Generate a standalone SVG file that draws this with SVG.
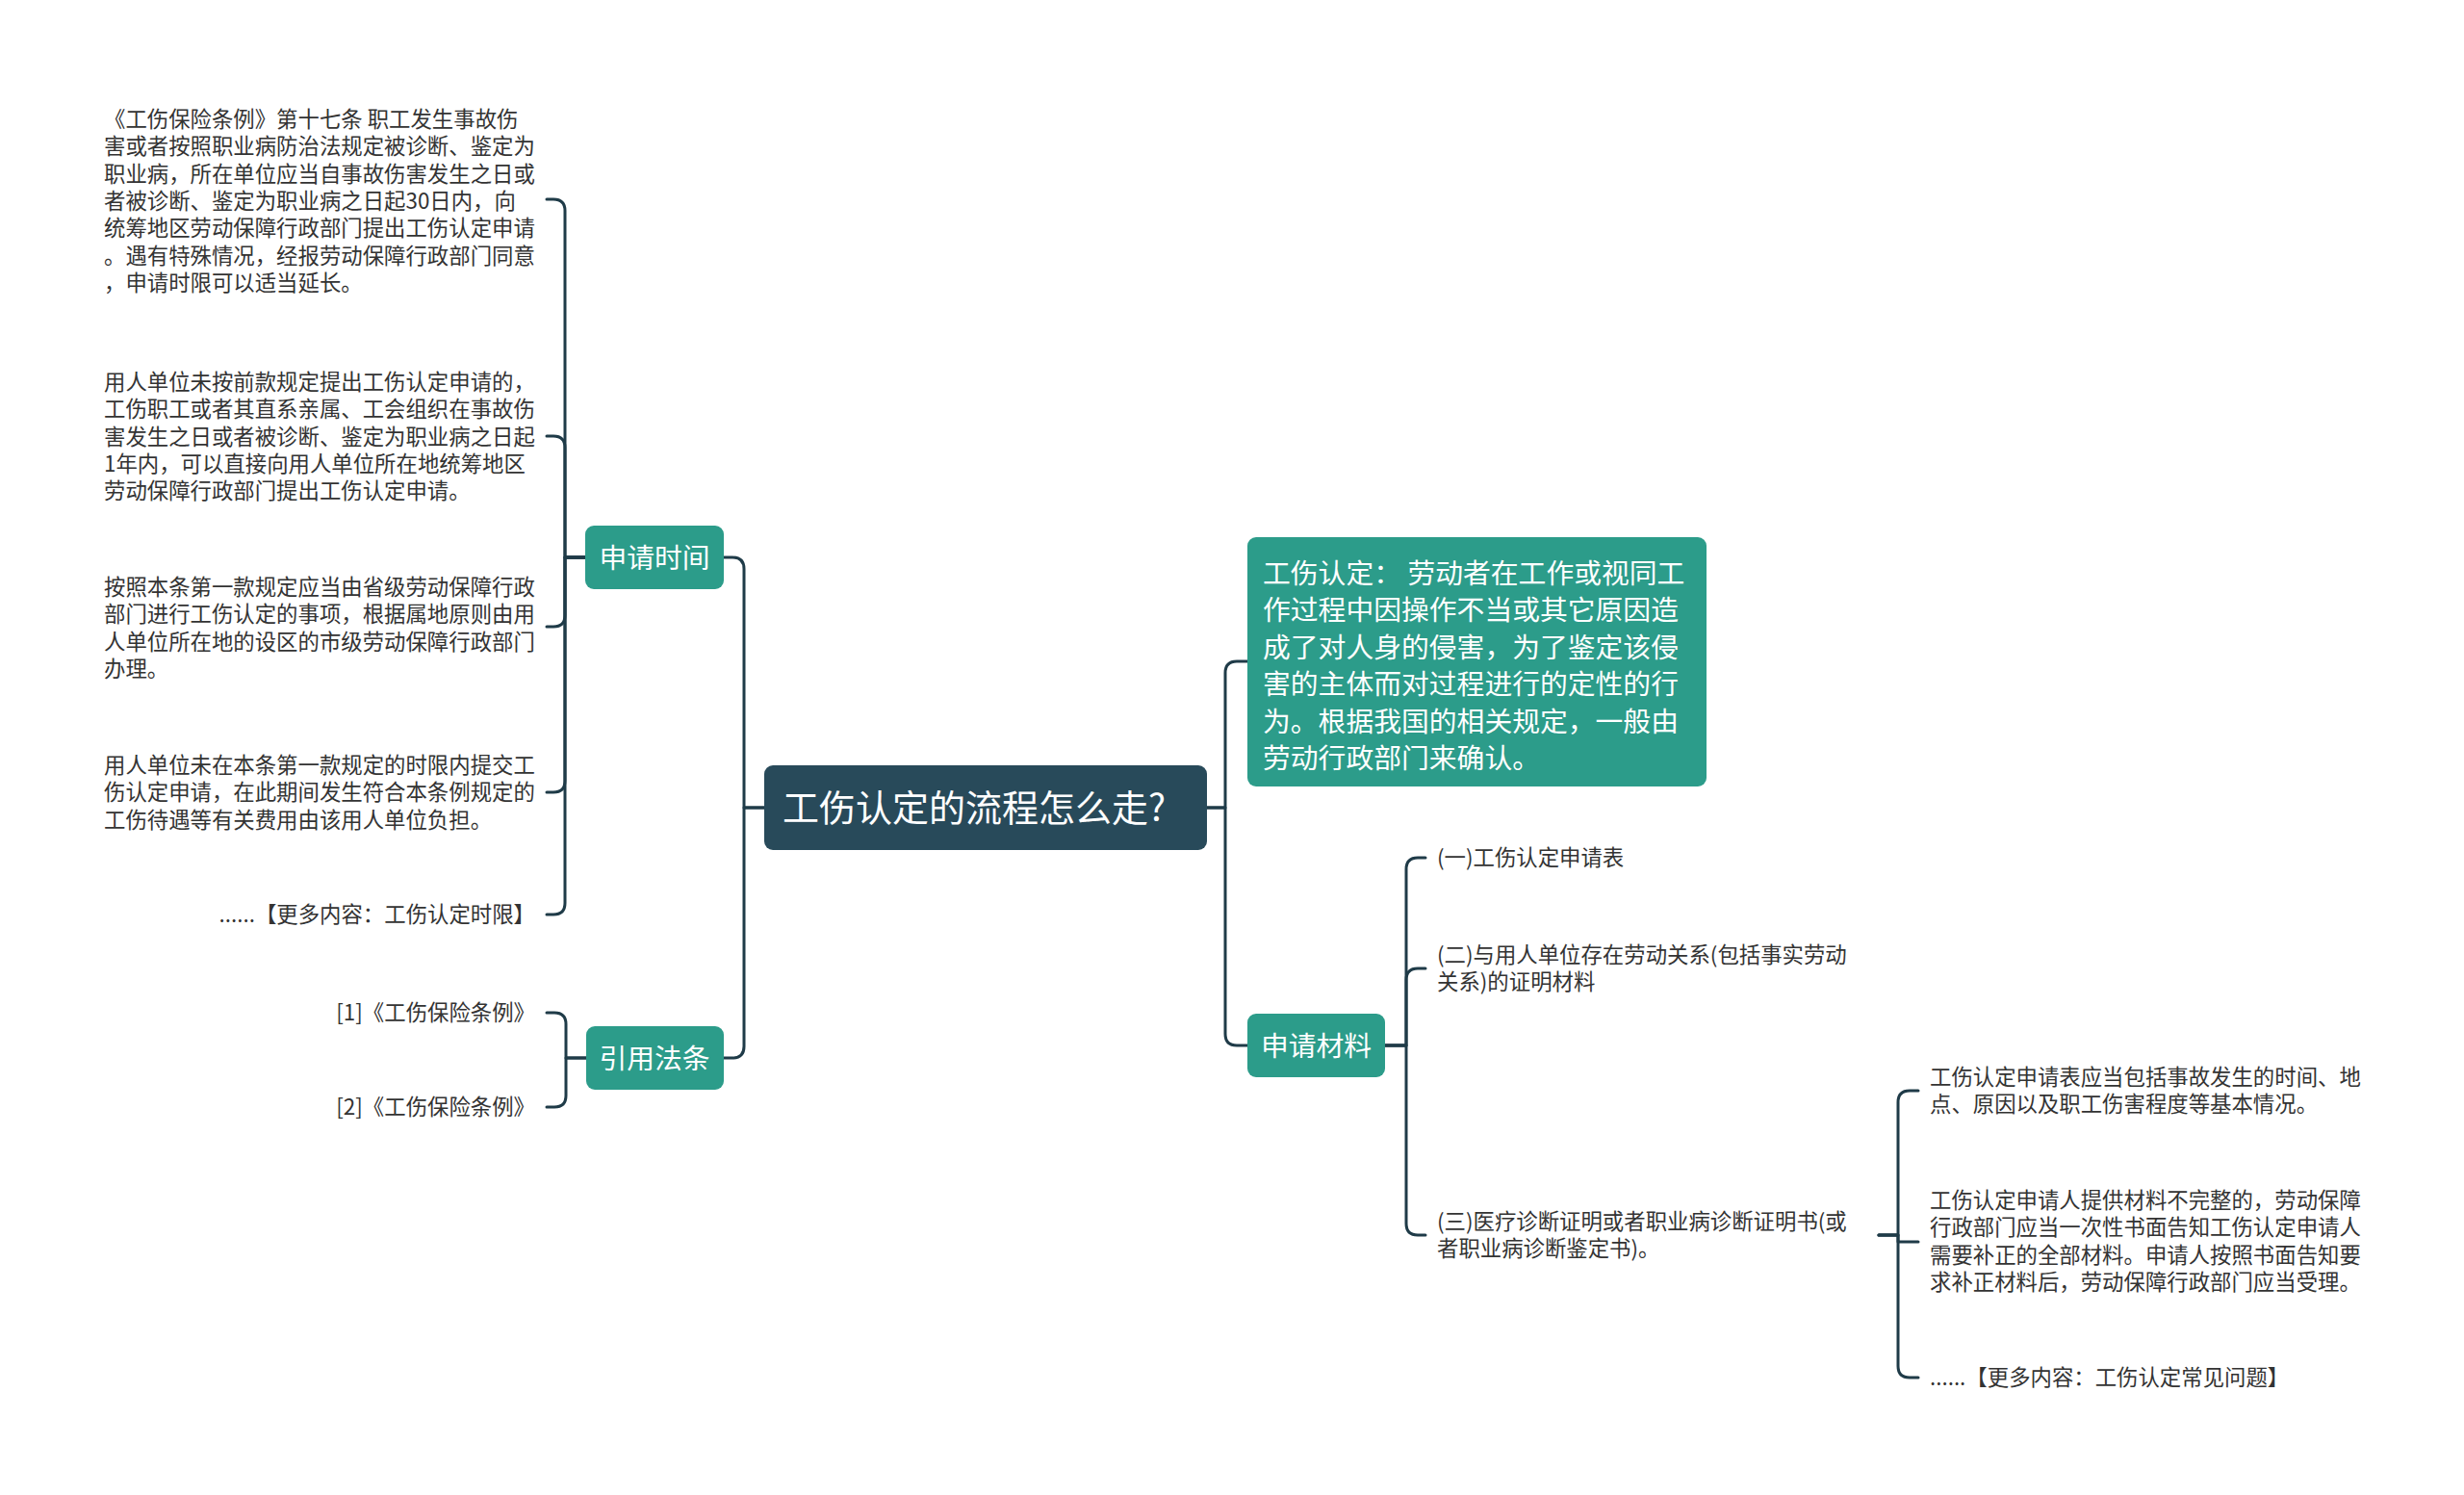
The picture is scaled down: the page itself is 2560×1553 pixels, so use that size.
<svg xmlns="http://www.w3.org/2000/svg" width="2560" height="1553" viewBox="0 0 2560 1553">
<style>
  .bg { fill: #ffffff; }
  .conn { fill: none; stroke: #1f3b48; stroke-width: 3; stroke-linecap: round; stroke-linejoin: round; }
  .root rect { fill: #284a5a; }
  .main rect { fill: #2c9c8a; }
  .root text { fill: #ffffff; font-size: 38px; }
  .main text { fill: #ffffff; font-size: 28.8px; }
  .leaf text { fill: #333333; font-size: 22.4px; }
  text { font-family: "Noto Sans CJK SC", "Microsoft YaHei", sans-serif; }
</style>
<rect class="bg" x="0" y="0" width="2560" height="1553"/>

<g id="connectors">
  <path class="conn" d="M794 839 H773 V591 Q773 579 761 579 H752"/>
  <path class="conn" d="M794 839 H773 V1087 Q773 1099 761 1099 H752"/>
  <path class="conn" d="M1254 839 H1273 V699 Q1273 687 1285 687 H1296"/>
  <path class="conn" d="M1254 839 H1273 V1074 Q1273 1086 1285 1086 H1296"/>
  <path class="conn" d="M608 579 H587 V219 Q587 207 575 207 H568"/>
  <path class="conn" d="M608 579 H587 V465 Q587 453 575 453 H568"/>
  <path class="conn" d="M608 579 H587 V639 Q587 651 575 651 H568"/>
  <path class="conn" d="M608 579 H587 V811 Q587 823 575 823 H568"/>
  <path class="conn" d="M608 579 H587 V938 Q587 950 575 950 H568"/>
  <path class="conn" d="M609 1099 H588 V1064 Q588 1052 576 1052 H568"/>
  <path class="conn" d="M609 1099 H588 V1138 Q588 1150 576 1150 H568"/>
  <path class="conn" d="M1439 1086 H1461 V903 Q1461 891 1473 891 H1481"/>
  <path class="conn" d="M1439 1086 H1461 V1018 Q1461 1006 1473 1006 H1481"/>
  <path class="conn" d="M1439 1086 H1461 V1271 Q1461 1283 1473 1283 H1481"/>
  <path class="conn" d="M1952 1283 H1972 V1145 Q1972 1133 1984 1133 H1993"/>
  <path class="conn" d="M1952 1283 H1972 V1290 H1993"/>
  <path class="conn" d="M1952 1283 H1972 V1419 Q1972 1431 1984 1431 H1993"/>
</g>

<g id="root" class="root">
  <rect x="794" y="795" width="460" height="88" rx="9"/>
  <text x="813" y="853">工伤认定的流程怎么走?</text>
</g>

<g id="n-time" class="main">
  <rect x="608" y="546" width="144" height="66" rx="9"/>
  <text x="680" y="590" text-anchor="middle">申请时间</text>
</g>

<g id="n-law" class="main">
  <rect x="609" y="1066" width="143" height="66" rx="9"/>
  <text x="680" y="1110" text-anchor="middle">引用法条</text>
</g>

<g id="n-def" class="main">
  <rect x="1296" y="558" width="477" height="259" rx="9"/>
  <text x="1312" y="606">
    <tspan x="1312">工伤认定： 劳动者在工作或视同工</tspan>
    <tspan x="1312" dy="38.4">作过程中因操作不当或其它原因造</tspan>
    <tspan x="1312" dy="38.4">成了对人身的侵害，为了鉴定该侵</tspan>
    <tspan x="1312" dy="38.4">害的主体而对过程进行的定性的行</tspan>
    <tspan x="1312" dy="38.4">为。根据我国的相关规定，一般由</tspan>
    <tspan x="1312" dy="38.4">劳动行政部门来确认。</tspan>
  </text>
</g>

<g id="n-mat" class="main">
  <rect x="1296" y="1053" width="143" height="66" rx="9"/>
  <text x="1367.5" y="1097" text-anchor="middle">申请材料</text>
</g>

<g id="t1" class="leaf">
  <text x="108" y="132">
    <tspan x="108">《工伤保险条例》第十七条 职工发生事故伤</tspan>
    <tspan x="108" dy="28.3">害或者按照职业病防治法规定被诊断、鉴定为</tspan>
    <tspan x="108" dy="28.3">职业病，所在单位应当自事故伤害发生之日或</tspan>
    <tspan x="108" dy="28.3">者被诊断、鉴定为职业病之日起30日内，向</tspan>
    <tspan x="108" dy="28.3">统筹地区劳动保障行政部门提出工伤认定申请</tspan>
    <tspan x="108" dy="28.3">。遇有特殊情况，经报劳动保障行政部门同意</tspan>
    <tspan x="108" dy="28.3">，申请时限可以适当延长。</tspan>
  </text>
</g>

<g id="t2" class="leaf">
  <text x="108" y="405">
    <tspan x="108">用人单位未按前款规定提出工伤认定申请的，</tspan>
    <tspan x="108" dy="28.3">工伤职工或者其直系亲属、工会组织在事故伤</tspan>
    <tspan x="108" dy="28.3">害发生之日或者被诊断、鉴定为职业病之日起</tspan>
    <tspan x="108" dy="28.3">1年内，可以直接向用人单位所在地统筹地区</tspan>
    <tspan x="108" dy="28.3">劳动保障行政部门提出工伤认定申请。</tspan>
  </text>
</g>

<g id="t3" class="leaf">
  <text x="108" y="618">
    <tspan x="108">按照本条第一款规定应当由省级劳动保障行政</tspan>
    <tspan x="108" dy="28.3">部门进行工伤认定的事项，根据属地原则由用</tspan>
    <tspan x="108" dy="28.3">人单位所在地的设区的市级劳动保障行政部门</tspan>
    <tspan x="108" dy="28.3">办理。</tspan>
  </text>
</g>

<g id="t4" class="leaf">
  <text x="108" y="803">
    <tspan x="108">用人单位未在本条第一款规定的时限内提交工</tspan>
    <tspan x="108" dy="28.3">伤认定申请，在此期间发生符合本条例规定的</tspan>
    <tspan x="108" dy="28.3">工伤待遇等有关费用由该用人单位负担。</tspan>
  </text>
</g>

<g id="t5" class="leaf">
  <text x="556" y="958" text-anchor="end">......【更多内容：工伤认定时限】</text>
</g>

<g id="law1" class="leaf">
  <text x="556" y="1060" text-anchor="end">[1]《工伤保险条例》</text>
</g>
<g id="law2" class="leaf">
  <text x="556" y="1158" text-anchor="end">[2]《工伤保险条例》</text>
</g>

<g id="m1" class="leaf">
  <text x="1493" y="899">(一)工伤认定申请表</text>
</g>
<g id="m2" class="leaf">
  <text x="1493" y="1000">
    <tspan x="1493">(二)与用人单位存在劳动关系(包括事实劳动</tspan>
    <tspan x="1493" dy="28.3">关系)的证明材料</tspan>
  </text>
</g>
<g id="m3" class="leaf">
  <text x="1493" y="1277">
    <tspan x="1493">(三)医疗诊断证明或者职业病诊断证明书(或</tspan>
    <tspan x="1493" dy="28.3">者职业病诊断鉴定书)。</tspan>
  </text>
</g>

<g id="s1" class="leaf">
  <text x="2005" y="1127">
    <tspan x="2005">工伤认定申请表应当包括事故发生的时间、地</tspan>
    <tspan x="2005" dy="28.3">点、原因以及职工伤害程度等基本情况。</tspan>
  </text>
</g>
<g id="s2" class="leaf">
  <text x="2005" y="1255">
    <tspan x="2005">工伤认定申请人提供材料不完整的，劳动保障</tspan>
    <tspan x="2005" dy="28.3">行政部门应当一次性书面告知工伤认定申请人</tspan>
    <tspan x="2005" dy="28.3">需要补正的全部材料。申请人按照书面告知要</tspan>
    <tspan x="2005" dy="28.3">求补正材料后，劳动保障行政部门应当受理。</tspan>
  </text>
</g>
<g id="s3" class="leaf">
  <text x="2005" y="1439">......【更多内容：工伤认定常见问题】</text>
</g>
</svg>
